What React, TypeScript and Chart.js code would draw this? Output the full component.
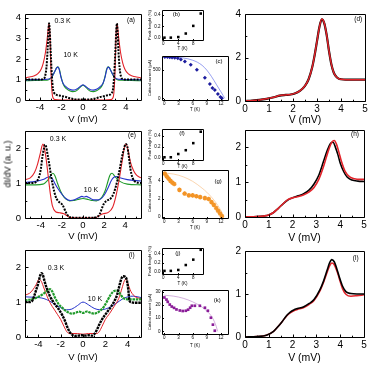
import React, { useEffect, useRef } from "react";
import { Chart, registerables } from "chart.js";

Chart.register(...registerables);

const FONT = "'Liberation Sans', Arial, Helvetica, sans-serif";
Chart.defaults.font.family = FONT;
Chart.defaults.color = "#000";

const RED = "#e2232a";
const BLUE = "#2634cc";
const GREEN = "#1f9a2a";
const BLACK = "#000000";

// ---- (a) 0.3 K / 10 K spectra ----
const aBlackV = [-5.4,-5.0,-4.6,-4.2,-3.9,-3.7,-3.55,-3.4,-3.3,-3.22,-3.16,-3.1,-3.04,-2.97,-2.9,-2.8,-2.65,-2.45,-2.2,-1.9,-1.6,-1.3,-1.0,-0.7,-0.4,0,0.4,0.7,1.0,1.3,1.6,1.9,2.2,2.45,2.65,2.8,2.9,2.97,3.04,3.1,3.16,3.22,3.3,3.4,3.55,3.7,3.9,4.2,4.6,5.0,5.4];
const aBlackY = [1.0,1.0,1.0,1.0,1.0,1.02,1.12,1.6,2.4,3.3,3.73,3.4,2.7,1.9,1.2,0.55,0.32,0.25,0.22,0.18,0.15,0.1,0.06,0.03,0.02,0.02,0.02,0.03,0.06,0.1,0.15,0.18,0.22,0.25,0.32,0.55,1.2,1.9,2.7,3.4,3.73,3.3,2.4,1.6,1.12,1.02,1.0,1.0,1.0,1.0,1.0];
const aRedV = [-5.4,-5.0,-4.6,-4.2,-3.9,-3.7,-3.5,-3.35,-3.25,-3.18,-3.12,-3.05,-2.98,-2.9,-2.8,-2.6,-2.0,0,2.0,2.6,2.8,2.9,2.98,3.05,3.12,3.18,3.25,3.35,3.5,3.7,3.9,4.2,4.6,5.0,5.4];
const aRedY = [1.08,1.12,1.17,1.28,1.5,1.8,2.3,2.9,3.4,3.7,3.55,2.7,1.4,0.5,0.12,0.02,0,0,0,0.02,0.12,0.5,1.4,2.7,3.55,3.7,3.4,2.9,2.3,1.8,1.5,1.28,1.17,1.12,1.08];
const aWarmV = [-5.4,-4.5,-3.6,-3.2,-3.0,-2.8,-2.6,-2.45,-2.33,-2.2,-2.05,-1.85,-1.55,-1.25,-0.95,-0.7,-0.45,-0.2,0,0.2,0.45,0.7,0.95,1.25,1.55,1.85,2.05,2.2,2.33,2.45,2.6,2.8,3.0,3.2,3.6,4.5,5.4];
const aBlueY = [0.98,0.99,1.0,1.02,1.08,1.22,1.42,1.56,1.6,1.45,1.1,0.8,0.63,0.52,0.48,0.5,0.58,0.68,0.74,0.68,0.58,0.5,0.48,0.52,0.63,0.8,1.1,1.45,1.6,1.56,1.42,1.22,1.08,1.02,1.0,0.99,0.98];
const aGreenY = [0.94,0.95,0.96,0.99,1.05,1.2,1.42,1.58,1.62,1.5,1.15,0.78,0.55,0.45,0.41,0.43,0.52,0.65,0.72,0.65,0.52,0.43,0.41,0.45,0.55,0.78,1.15,1.5,1.62,1.58,1.42,1.2,1.05,0.99,0.96,0.95,0.94];

// ---- (e) ----
const eBlackV = [-5.5,-4.8,-4.4,-4.2,-4.0,-3.85,-3.7,-3.6,-3.5,-3.35,-3.15,-3.0,-2.8,-2.6,-2.4,-2.15,-1.95,-1.75,-1.55,-1.35,-1.0,0,1.0,1.4,1.6,1.8,2.0,2.3,2.6,2.9,3.2,3.45,3.7,3.9,4.05,4.2,4.35,4.5,4.7,5.0,5.5];
const eBlackY = [1.0,1.0,1.05,1.15,1.4,1.75,2.0,2.1,2.05,1.8,1.45,1.15,0.85,0.62,0.5,0.43,0.38,0.25,0.12,0.04,0.01,0.01,0.01,0.04,0.12,0.28,0.42,0.5,0.55,0.7,1.0,1.35,1.75,2.0,2.12,2.05,1.75,1.4,1.15,1.03,1.0];
const eRedV = [-5.5,-5.0,-4.6,-4.3,-4.05,-3.9,-3.8,-3.7,-3.5,-3.3,-3.1,-2.9,-2.6,-2.2,-1.8,-1.5,-1.2,0,1.2,1.5,1.9,2.4,2.8,3.1,3.4,3.7,3.95,4.1,4.3,4.5,4.8,5.1,5.5];
const eRedY = [1.1,1.15,1.3,1.55,1.85,2.05,2.12,2.05,1.7,1.2,0.7,0.35,0.18,0.15,0.12,0.06,0.01,0,0.01,0.06,0.12,0.16,0.3,0.6,1.05,1.6,2.05,2.12,1.9,1.6,1.35,1.22,1.15];
const eBlueV = [-5.5,-4.5,-3.8,-3.4,-3.15,-2.9,-2.65,-2.4,-2.0,-1.6,-1.2,-0.8,-0.4,-0.1,0.1,0.3,0.6,1.0,1.5,2.0,2.4,2.7,2.9,3.15,3.5,4.2,5.5];
const eBlueY = [1.02,1.05,1.1,1.16,1.19,1.12,0.98,0.85,0.68,0.55,0.5,0.52,0.58,0.62,0.6,0.62,0.58,0.52,0.52,0.65,0.88,1.08,1.16,1.19,1.15,1.1,1.06];
const eGreenV = [-5.5,-4.5,-3.8,-3.3,-3.05,-2.86,-2.65,-2.4,-2.1,-1.8,-1.5,-1.27,-0.9,-0.5,0,0.5,0.9,1.27,1.5,1.8,2.1,2.3,2.54,2.75,3.0,3.5,4.2,5.5];
const eGreenY = [0.95,0.95,0.97,1.1,1.22,1.28,1.2,0.98,0.75,0.6,0.52,0.49,0.5,0.53,0.56,0.53,0.5,0.49,0.52,0.6,0.78,0.98,1.22,1.28,1.2,1.05,0.97,0.95];

// ---- (i) ----
const iBlackV = [-5.2,-4.8,-4.6,-4.4,-4.2,-4.0,-3.85,-3.72,-3.6,-3.45,-3.27,-3.1,-2.97,-2.75,-2.53,-2.3,-2.08,-1.85,-1.63,-1.4,-1.19,-0.95,-0.74,-0.4,-0.1,0.2,0.5,0.8,1.0,1.2,1.45,1.7,1.95,2.2,2.5,2.8,3.05,3.25,3.45,3.6,3.8,3.95,4.08,4.15,4.3,4.7,5.2];
const iBlackY = [1.0,1.0,1.02,1.15,1.35,1.55,1.75,1.83,1.78,1.6,1.41,1.28,1.17,1.05,0.94,0.85,0.75,0.62,0.47,0.28,0.14,0.06,0.03,0.04,0.05,0.04,0.05,0.04,0.08,0.18,0.35,0.5,0.62,0.73,0.86,1.02,1.2,1.45,1.68,1.74,1.72,1.6,1.3,1.05,1.0,0.98,0.98];
const iRedV = [-5.2,-4.8,-4.5,-4.2,-3.95,-3.75,-3.5,-3.2,-2.9,-2.6,-2.3,-2.0,-1.7,-1.45,-1.25,-0.5,0,0.5,1.25,1.45,1.7,2.0,2.4,2.8,3.2,3.5,3.7,3.85,4.0,4.3,4.7,5.2];
const iRedY = [1.2,1.25,1.35,1.5,1.65,1.6,1.4,1.15,0.95,0.8,0.65,0.5,0.3,0.15,0.1,0.1,0.08,0.1,0.1,0.15,0.3,0.5,0.68,0.88,1.1,1.4,1.6,1.66,1.55,1.3,1.15,1.1];
const iBlueV = [-5.2,-4.5,-4.0,-3.5,-3.0,-2.5,-2.0,-1.5,-1.0,-0.5,0,0.5,1.0,1.5,2.0,2.5,3.0,3.5,4.0,4.5,5.2];
const iBlueY = [1.15,1.14,1.13,1.1,1.03,0.93,0.84,0.78,0.8,0.9,1.0,0.92,0.82,0.78,0.8,0.87,0.97,1.08,1.15,1.17,1.13];
const iGreenV = [-5.2,-4.6,-4.0,-3.5,-3.2,-2.97,-2.75,-2.5,-2.2,-1.9,-1.6,-1.3,-1.0,-0.6,-0.35,0,0.35,0.6,1.0,1.3,1.6,1.9,2.2,2.5,2.8,3.05,3.3,3.6,4.0,4.5,5.2];
const iGreenY = [1.05,1.08,1.15,1.25,1.33,1.37,1.3,1.12,0.95,0.85,0.76,0.7,0.67,0.7,0.73,0.69,0.73,0.7,0.67,0.7,0.77,0.88,1.05,1.22,1.32,1.33,1.25,1.12,1.08,1.08,1.08];

// ---- (d), (h), (l): positive-bias spectra ----
const dV = [0,0.3,0.6,0.9,1.2,1.45,1.7,1.9,2.1,2.3,2.5,2.65,2.8,2.9,3.0,3.1,3.2,3.3,3.4,3.5,3.6,3.7,3.8,3.9,4.0,4.2,4.5,5.0];
const dRedY = [0,0.02,0.05,0.1,0.17,0.25,0.28,0.3,0.36,0.48,0.7,1.0,1.55,2.1,2.75,3.4,3.77,3.6,3.05,2.3,1.68,1.3,1.12,1.03,1.0,0.98,0.98,0.98];
const dBlackY = [0,0.02,0.05,0.1,0.17,0.25,0.28,0.3,0.36,0.48,0.7,1.0,1.55,2.1,2.75,3.4,3.75,3.58,3.05,2.3,1.68,1.3,1.12,1.03,1.0,0.98,0.98,0.98];
const hBlackV = [0,0.5,0.8,1.0,1.2,1.4,1.6,1.8,2.0,2.2,2.45,2.7,2.9,3.1,3.3,3.45,3.6,3.7,3.8,3.9,4.0,4.15,4.3,4.5,4.75,5.0];
const hBlackY = [0,0.01,0.03,0.06,0.13,0.25,0.38,0.49,0.55,0.6,0.66,0.78,0.95,1.2,1.6,1.9,2.12,2.15,2.0,1.8,1.55,1.3,1.14,1.06,1.03,1.02];
const hRedV = [0,0.5,0.8,1.0,1.2,1.4,1.6,1.8,2.0,2.2,2.45,2.7,2.9,3.1,3.3,3.5,3.65,3.75,3.85,3.95,4.05,4.2,4.4,4.6,4.8,5.0];
const hRedY = [0,0.01,0.03,0.06,0.13,0.25,0.38,0.5,0.55,0.58,0.63,0.72,0.85,1.08,1.45,1.9,2.15,2.2,2.08,1.85,1.6,1.32,1.15,1.1,1.08,1.08];
const lV = [0,0.5,0.9,1.2,1.4,1.55,1.75,1.9,2.05,2.2,2.45,2.7,2.9,3.15,3.3,3.45,3.55,3.65,3.75,3.85,3.95,4.1,4.25,4.45,4.7,5.0];
const lBlackY = [0,0.01,0.04,0.13,0.25,0.35,0.5,0.58,0.63,0.66,0.7,0.78,0.87,1.1,1.3,1.55,1.72,1.8,1.75,1.6,1.42,1.18,1.05,1.01,1.0,1.0];
const lRedY = [0,0.01,0.04,0.13,0.25,0.35,0.49,0.56,0.61,0.64,0.68,0.76,0.85,1.07,1.27,1.5,1.65,1.72,1.68,1.55,1.38,1.12,0.99,0.95,0.96,0.98];

// ---- insets: peak height and critical current vs temperature ----
const peakT = [0.3,2,4,6,8,10];
const bPeak = [0.01,0.01,0.02,0.08,0.21,0.42];
const fPeak = [0.01,0.01,0.07,0.14,0.27,0.48];
const jPeak = [0.02,0.02,0.04,0.15,0.27,0.49];

const cT = [0.1,0.66,1.15,1.64,2.2,2.85,3.5,4.35,5.6,6.9,8.6,9.66,10.2,10.7,11.35,11.9,12.2];
const cIc = [732,732,729,723,720,711,689,654,595,505,363,255,184,148,77,23,0];
const cFitT = [0,1,2,3,4,5,6,7,8,9,10,11,12,12.5,12.8];
const cFitIc = [735,734,731,725,715,700,675,640,585,500,385,250,115,45,0];

const gT = [0.1,0.5,0.9,1.3,1.7,2.1,3.2,4.3,5.2,6.0,6.8,7.6,8.6,9.4,10.0,10.5,11.0,11.4,11.8,12.2];
const gIc = [4.8,4.5,4.25,4.0,3.8,3.65,3.0,2.6,2.4,2.4,2.3,2.2,2.1,2.0,1.65,1.35,1.0,0.7,0.4,0.1];
const gFitT = [0,2,4,6,8,9,10,11,11.8,12.3,12.6];
const gFitIc = [4.85,4.75,4.45,3.95,3.2,2.75,2.2,1.55,0.9,0.4,0];

const kT = [0,0.45,0.72,1.15,1.57,2.06,2.57,3.28,3.9,4.55,5.04,5.47,5.83,6.47,7.53,8.6,9.23,9.87,10.3,10.7];
const kIc = [25.8,24.2,22.5,20.4,18.9,17.9,16.7,15.9,15.5,15.7,16.5,18.0,19.5,19.5,19.5,18.0,15.7,10.4,5.1,0.5];
const kFitT = [0,2,4,6,8,9,10,10.6,11.0,11.3];
const kFitIc = [27.5,26.8,25.2,22.5,18.5,15.5,11.5,7.5,3.8,0];

// tick values
const biasTicksLeft = [-4,-2,0,2,4];
const biasTicksRight = [0,1,2,3,4,5];
const peakTempTicks = [0,4,8];
const icTempTicks = [0,3,6,9,12];

// ---------------------------------------------------------------
type TextSpec = { t: string; x: number; y: number; size: number };
type AxisSpec = {
  min: number; max: number; ticks: number[]; dec?: number; minor?: number;
  title?: string; titleAt?: number; size: number; titleSize?: number; pad: number;
};
type PanelSpec = {
  box: [number, number, number, number];
  ml: number; mb: number; tick: number;
  x: AxisSpec; y: AxisSpec; datasets: any[]; texts: TextSpec[];
};

const MT = 8;
const MR = 8;

const pts = (xs: number[], ys: number[]) => xs.map((x, i) => ({ x, y: ys[i] }));

const curve = (xs: number[], ys: number[], color: string, width: number, dash: number[] = []) => ({
  data: pts(xs, ys),
  borderColor: color,
  borderWidth: width,
  borderDash: dash,
  pointRadius: 0,
  fill: false,
  cubicInterpolationMode: "monotone",
});

const markers = (xs: number[], ys: number[], color: string, style: string, radius: number, bw = 0) => ({
  data: pts(xs, ys),
  showLine: false,
  pointStyle: style,
  pointRadius: radius,
  backgroundColor: color,
  borderColor: color,
  borderWidth: bw,
});

function framePlugin(p: PanelSpec) {
  return {
    id: "frame",
    afterDatasetsDraw(chart: any) {
      const { ctx, chartArea: a } = chart;
      const xs = chart.scales.x;
      const ys = chart.scales.y;
      ctx.save();
      ctx.strokeStyle = "#000";
      ctx.lineWidth = 1;
      ctx.beginPath();
      const L = Math.round(a.left) + 0.5, T = Math.round(a.top) + 0.5;
      const R = Math.round(a.right) + 0.5, B = Math.round(a.bottom) + 0.5;
      ctx.rect(L, T, R - L, B - T);
      const mark = (axis: any, spec: AxisSpec, horizontal: boolean) => {
        const values: { v: number; len: number }[] = spec.ticks.map((v) => ({ v, len: p.tick }));
        if (spec.minor) {
          const k0 = Math.ceil(spec.min / spec.minor - 1e-9);
          const k1 = Math.floor(spec.max / spec.minor + 1e-9);
          for (let k = k0; k <= k1; k++) {
            const v = k * spec.minor;
            if (!spec.ticks.some((t) => Math.abs(t - v) < 1e-6)) values.push({ v, len: p.tick * 0.6 });
          }
        }
        for (const { v, len } of values) {
          const px = Math.round(axis.getPixelForValue(v)) + 0.5;
          if (horizontal) { ctx.moveTo(px, B); ctx.lineTo(px, B - len); }
          else { ctx.moveTo(L, px); ctx.lineTo(L + len, px); }
        }
      };
      mark(xs, p.x, true);
      mark(ys, p.y, false);
      ctx.stroke();
      ctx.fillStyle = "#000";
      ctx.textAlign = "center";
      ctx.textBaseline = "middle";
      for (const t of p.texts) {
        ctx.font = `${t.size}px ${FONT}`;
        ctx.fillText(t.t, xs.getPixelForValue(t.x), ys.getPixelForValue(t.y));
      }
      ctx.restore();
    },
  };
}

function buildConfig(p: PanelSpec) {
  const [x0, , , y1] = p.box;
  const canvasLeft = x0 - p.ml;
  const canvasBottom = y1 + p.mb;
  const axis = (a: AxisSpec, horizontal: boolean) => {
    const ts = a.titleSize ?? a.size;
    const lh = ts * 1.2;
    let tpad = 0;
    if (a.title && a.titleAt !== undefined) {
      tpad = horizontal ? canvasBottom - a.titleAt - lh / 2 : a.titleAt - canvasLeft - lh / 2;
    }
    tpad = Math.max(0, tpad);
    return {
      type: "linear",
      min: a.min,
      max: a.max,
      grid: { display: false, drawTicks: false },
      border: { display: false },
      afterBuildTicks: (s: any) => { s.ticks = a.ticks.map((value) => ({ value })); },
      afterFit: (s: any) => { if (horizontal) s.height = p.mb; else s.width = p.ml; },
      ticks: {
        color: "#000",
        font: { family: FONT, size: a.size },
        padding: a.pad,
        autoSkip: false,
        maxRotation: 0,
        callback: (v: any) => (a.dec ? Number(v).toFixed(a.dec) : String(v)),
      },
      title: {
        display: !!a.title,
        text: a.title || "",
        color: "#000",
        font: { family: FONT, size: ts },
        padding: horizontal ? { top: 0, bottom: tpad } : { top: tpad, bottom: 0 },
      },
    };
  };
  return {
    type: "line",
    data: { datasets: p.datasets },
    options: {
      responsive: false,
      animation: false,
      events: [],
      layout: { padding: { top: MT, right: MR, left: 0, bottom: 0 } },
      plugins: { legend: { display: false }, tooltip: { enabled: false } },
      scales: { x: axis(p.x, true), y: axis(p.y, false) },
    },
    plugins: [framePlugin(p)],
  };
}

// ---------------------------------------------------------------
const leftX = (min: number, max: number, titleAt: number): AxisSpec => ({
  min, max, ticks: biasTicksLeft, minor: 1, title: "V (mV)", titleAt, size: 9.5, titleSize: 9.5, pad: 2,
});
const rightX = (titleAt: number): AxisSpec => ({
  min: 0, max: 5, ticks: biasTicksRight, minor: 0.5, title: "V (mV)", titleAt, size: 10, titleSize: 10.5, pad: 2,
});
const peakX = (titleAt: number): AxisSpec => ({
  min: -0.35, max: 10.6, ticks: peakTempTicks, title: "T (K)", titleAt, size: 4.5, titleSize: 4.5, pad: 1,
});
const icX = (titleAt: number): AxisSpec => ({
  min: -0.5, max: 13.5, ticks: icTempTicks, title: "T (K)", titleAt, size: 4.5, titleSize: 4.5, pad: 1,
});
const peakY = (min: number, max: number): AxisSpec => ({
  min, max, ticks: [0, 0.2, 0.4], dec: 1, title: "Peak height (%)", titleAt: 150, size: 4.5, titleSize: 4.2, pad: 1.5,
});
const icY = (min: number, max: number, ticks: number[]): AxisSpec => ({
  min, max, ticks, title: "Critical current (\u03bcA)", titleAt: 150, size: 4.5, titleSize: 4.2, pad: 1.5,
});

const DOT = [2, 1.2];

const panels: PanelSpec[] = [
  {
    box: [25, 12, 141, 100], ml: 25, mb: 30, tick: 3,
    x: leftX(-5.4, 5.4, 119),
    y: { min: 0, max: 4.2, ticks: [0, 1, 2, 3, 4], minor: 0.5, size: 9.5, pad: 4 },
    datasets: [
      curve(aBlackV, aBlackY, BLACK, 2, DOT),
      curve(aRedV, aRedY, RED, 1.1),
      curve(aWarmV, aBlueY, BLUE, 1.1),
      curve(aWarmV, aGreenY, GREEN, 1.1),
    ],
    texts: [
      { t: "0.3 K", x: -1.9, y: 3.86, size: 7 },
      { t: "10 K", x: -1.15, y: 2.19, size: 7 },
      { t: "(a)", x: 4.47, y: 3.9, size: 6.5 },
    ],
  },
  {
    box: [25, 129, 141, 218], ml: 25, mb: 28, tick: 3,
    x: leftX(-5.5, 5.5, 236.7),
    y: { min: 0, max: 2.5, ticks: [0, 1, 2], minor: 0.5, size: 9.5, pad: 4 },
    datasets: [
      curve(eBlackV, eBlackY, BLACK, 2, DOT),
      curve(eRedV, eRedY, RED, 1.1),
      curve(eBlueV, eBlueY, BLUE, 1.1),
      curve(eGreenV, eGreenY, GREEN, 1.1),
    ],
    texts: [
      { t: "0.3 K", x: -2.37, y: 2.25, size: 7 },
      { t: "10 K", x: 0.76, y: 0.81, size: 7 },
      { t: "(e)", x: 4.65, y: 2.36, size: 6.5 },
    ],
  },
  {
    box: [25, 248, 141, 337], ml: 25, mb: 27, tick: 3,
    x: leftX(-5.2, 5.2, 357),
    y: { min: 0, max: 2.5, ticks: [0, 1, 2], minor: 0.5, size: 9.5, pad: 4 },
    datasets: [
      curve(iBlackV, iBlackY, BLACK, 2.4, [2.5, 0.8]),
      curve(iGreenV, iGreenY, GREEN, 2.2, [2.5, 0.8]),
      curve(iRedV, iRedY, RED, 1.0),
      curve(iBlueV, iBlueY, BLUE, 1.0),
    ],
    texts: [
      { t: "0.3 K", x: -2.42, y: 1.97, size: 7 },
      { t: "10 K", x: 1.08, y: 1.1, size: 7 },
      { t: "(i)", x: 4.37, y: 2.35, size: 6.5 },
    ],
  },
  {
    box: [245, 12, 365, 101], ml: 32, mb: 28, tick: 3,
    x: rightX(120),
    y: { min: 0, max: 4, ticks: [0, 2, 4], minor: 1, size: 10, pad: 4 },
    datasets: [curve(dV, dRedY, RED, 1.5), curve(dV, dBlackY, BLACK, 2.2)],
    texts: [{ t: "(d)", x: 4.72, y: 3.78, size: 6.5 }],
  },
  {
    box: [245, 128, 364, 217], ml: 32, mb: 28, tick: 3,
    x: rightX(237.7),
    y: { min: 0, max: 2.5, ticks: [0, 1, 2], minor: 0.5, size: 10, pad: 4 },
    datasets: [curve(hRedV, hRedY, RED, 1.6), curve(hBlackV, hBlackY, BLACK, 1.6)],
    texts: [{ t: "(h)", x: 4.62, y: 2.37, size: 6.5 }],
  },
  {
    box: [245, 249, 364, 337], ml: 32, mb: 27, tick: 3,
    x: rightX(357.7),
    y: { min: 0, max: 2, ticks: [0, 1, 2], minor: 0.5, size: 10, pad: 4 },
    datasets: [curve(lV, lBlackY, BLACK, 1.6), curve(lV, lRedY, RED, 1.5)],
    texts: [{ t: "(l)", x: 4.65, y: 1.84, size: 6.5 }],
  },
  // insets
  {
    box: [162, 10, 203, 40], ml: 16, mb: 14, tick: 1.5,
    x: peakX(49), y: peakY(-0.03, 0.48),
    datasets: [markers(peakT, bPeak, BLACK, "rect", 1.8)],
    texts: [{ t: "(b)", x: 3.47, y: 0.4, size: 6 }],
  },
  {
    box: [162, 56, 228, 100], ml: 16, mb: 14, tick: 1.5,
    x: icX(110), y: icY(-30, 750, [0, 500]),
    datasets: [
      markers(cT, cIc, "#1c1c9e", "rectRot", 2),
      curve(cFitT, cFitIc, "#5060e8", 0.6),
    ],
    texts: [{ t: "(c)", x: 11.6, y: 654, size: 6 }],
  },
  {
    box: [162, 129, 203, 160], ml: 16, mb: 14, tick: 1.5,
    x: peakX(167), y: peakY(-0.04, 0.53),
    datasets: [markers(peakT, fPeak, BLACK, "rect", 1.8)],
    texts: [{ t: "(f)", x: 5.0, y: 0.45, size: 6 }],
  },
  {
    box: [162, 170, 228, 218], ml: 16, mb: 14, tick: 1.5,
    x: icX(228), y: icY(-0.1, 5.2, [0, 2, 4]),
    datasets: [
      markers(gT, gIc, "#f39426", "star", 2.3, 1.3),
      curve(gFitT, gFitIc, "#f6b878", 0.6),
    ],
    texts: [{ t: "(g)", x: 11.4, y: 3.9, size: 6 }],
  },
  {
    box: [162, 248, 203, 274], ml: 16, mb: 14, tick: 1.5,
    x: peakX(284), y: peakY(-0.05, 0.53),
    datasets: [markers(peakT, jPeak, BLACK, "rect", 1.8)],
    texts: [{ t: "(j)", x: 3.9, y: 0.42, size: 6 }],
  },
  {
    box: [162, 290, 228, 334], ml: 16, mb: 16, tick: 1.5,
    x: icX(346), y: icY(-2, 31.5, [0, 10, 20, 30]),
    datasets: [
      markers(kT, kIc, "#8a1c98", "rect", 1.9),
      curve(kFitT, kFitIc, "#b67cc6", 0.6),
    ],
    texts: [{ t: "(k)", x: 11.2, y: 24, size: 6 }],
  },
];

function Panel({ spec }: { spec: PanelSpec }) {
  const ref = useRef<HTMLCanvasElement>(null);
  const [x0, y0, x1, y1] = spec.box;
  const w = x1 - x0 + spec.ml + MR;
  const h = y1 - y0 + MT + spec.mb;
  useEffect(() => {
    const chart = new Chart(ref.current as HTMLCanvasElement, buildConfig(spec) as any);
    return () => chart.destroy();
  }, [spec]);
  return (
    <canvas
      ref={ref}
      width={w}
      height={h}
      style={{ position: "absolute", left: x0 - spec.ml, top: y0 - MT, width: w, height: h }}
    />
  );
}

export default function App() {
  return (
    <div style={{ position: "absolute", left: 0, top: 0, width: 375, height: 365, background: "#fff", overflow: "hidden" }}>
      {panels.map((p, i) => (
        <Panel key={i} spec={p} />
      ))}
      <div
        style={{
          position: "absolute", left: 8, top: 164,
          transform: "translate(-50%, -50%) rotate(-90deg)",
          fontFamily: FONT, fontSize: 9, lineHeight: 1, whiteSpace: "nowrap", color: "#000",
        }}
      >
        dI/dV (a. u.)
      </div>
    </div>
  );
}
